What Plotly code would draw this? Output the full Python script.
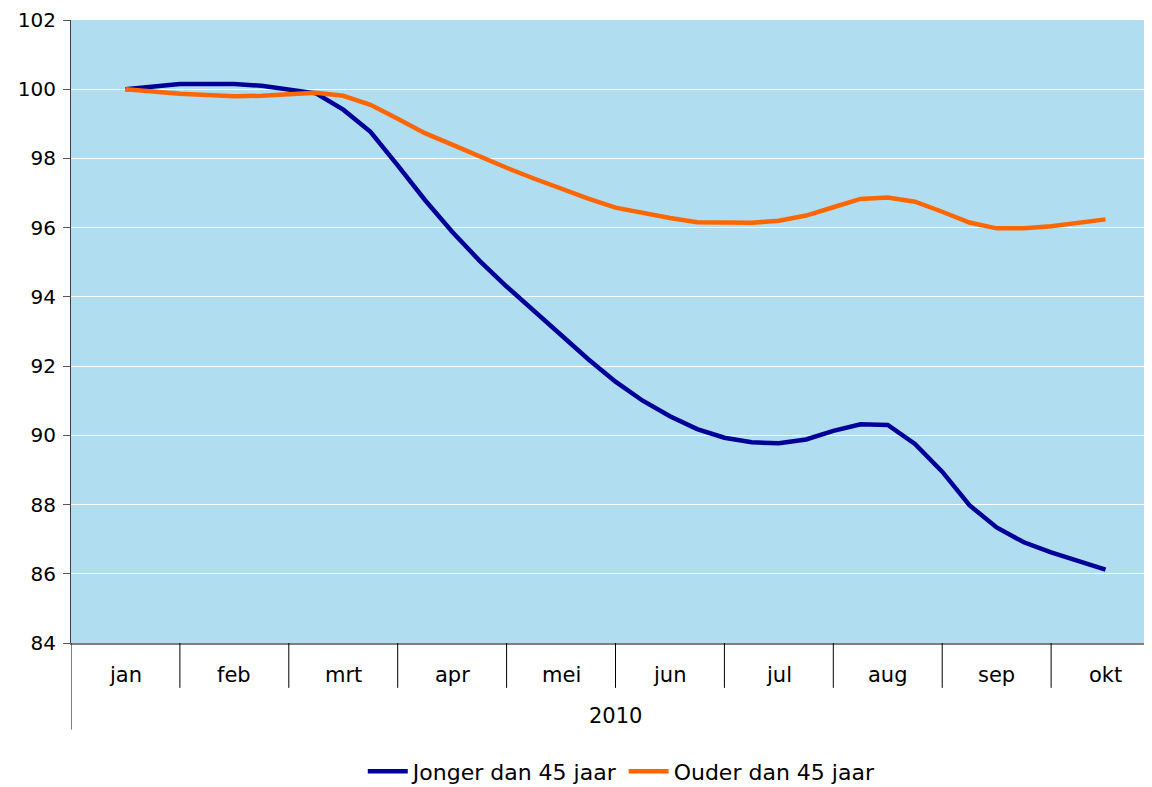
import plotly.graph_objects as go

months = ["jan", "feb", "mrt", "apr", "mei", "jun", "jul", "aug", "sep", "okt"]
year_label = "2010"
# positions in month units (0 = jan centre), quarter-month steps
x_pos = [i / 4 for i in range(37)]

jonger = [100.0, 100.06, 100.15, 100.15, 100.15, 100.1, 100.0, 99.88, 99.41, 98.77,
          97.8, 96.8, 95.88, 95.05, 94.3, 93.6, 92.9, 92.2, 91.55, 91.0,
          90.55, 90.18, 89.93, 89.8, 89.77, 89.88, 90.13, 90.32, 90.3, 89.75,
          88.95, 87.98, 87.34, 86.91, 86.62, 86.37, 86.12]
ouder = [100.0, 99.93, 99.87, 99.83, 99.8, 99.81, 99.85, 99.9, 99.81, 99.55,
         99.15, 98.73, 98.4, 98.06, 97.73, 97.42, 97.12, 96.84, 96.58, 96.42,
         96.28, 96.16, 96.14, 96.14, 96.2, 96.35, 96.59, 96.83, 96.87, 96.75,
         96.46, 96.15, 95.98, 95.98, 96.04, 96.14, 96.24]

FONT = "DejaVu Sans"
FS = 20

fig = go.Figure()
fig.add_trace(go.Scatter(x=x_pos, y=jonger, mode="lines", name="Jonger dan 45 jaar",
                         line=dict(color="#000099", width=4.5)))
fig.add_trace(go.Scatter(x=x_pos, y=ouder, mode="lines", name="Ouder dan 45 jaar",
                         line=dict(color="#FF6600", width=4.5)))

shapes = []
for i in range(len(months) - 1):
    shapes.append(dict(type="line", xref="x", yref="paper", x0=i + 0.5, x1=i + 0.5,
                       y0=0, y1=-0.072, line=dict(color="black", width=1)))
shapes.append(dict(type="line", xref="x", yref="paper", x0=-0.5, x1=-0.5,
                   y0=0, y1=-0.139, line=dict(color="black", width=1)))

annotations = []
for i, m in enumerate(months):
    annotations.append(dict(x=i, y=-0.0512, xref="x", yref="paper", text=m,
                            showarrow=False, font=dict(family=FONT, size=21, color="black"),
                            xanchor="center", yanchor="middle"))
annotations.append(dict(x=4.5, y=-0.1168, xref="x", yref="paper", text=year_label,
                        showarrow=False, font=dict(family=FONT, size=21, color="black"),
                        xanchor="center", yanchor="middle"))

fig.update_layout(
    width=1136, height=787,
    margin=dict(l=63, r=0, t=10, b=152),
    paper_bgcolor="white",
    plot_bgcolor="#B0DEF0",
    font=dict(family=FONT, size=FS, color="black"),
    showlegend=True,
    legend=dict(orientation="h", x=0.5133, xanchor="center", y=-0.206, yanchor="middle",
                font=dict(family=FONT, size=22, color="black"), itemwidth=40,
                traceorder="normal"),
    shapes=shapes,
    annotations=annotations,
    xaxis=dict(range=[-0.5, 9.353], showgrid=False, zeroline=False, showticklabels=False,
               ticks="", showline=True, linecolor="#808080", linewidth=2, fixedrange=True),
    yaxis=dict(range=[84, 102], dtick=2, tick0=84, showgrid=True, gridcolor="white",
               gridwidth=1, zeroline=False, ticks="outside", ticklen=7, tickcolor="#555555",
               showline=True, linecolor="#404040", linewidth=1,
               ticklabeloverflow="allow", ticklabelstandoff=3,
               tickfont=dict(family=FONT, size=FS, color="black")),
)

fig.write_html("out.html")
